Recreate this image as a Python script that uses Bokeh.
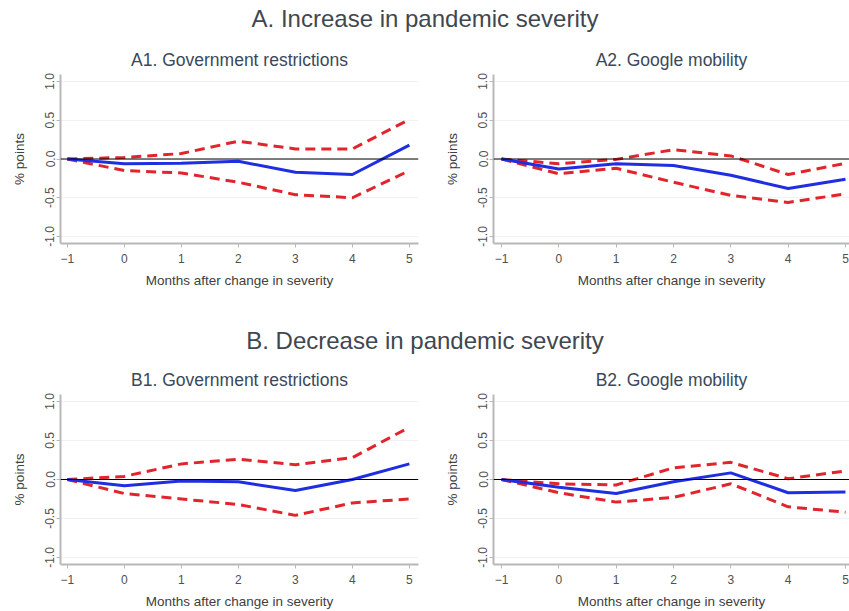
from bokeh.plotting import figure
from bokeh.layouts import column, row
from bokeh.models import Range1d, FixedTicker, PrintfTickFormatter, Span, ColumnDataSource
from bokeh.core.properties import value
from bokeh.embed import file_html
from bokeh.resources import INLINE

months = [-1, 0, 1, 2, 3, 4, 5]
x_ticks = [-1, 0, 1, 2, 3, 4, 5]
y_ticks = [-1.0, -0.5, 0.0, 0.5, 1.0]

section_a = "A. Increase in pandemic severity"
section_b = "B. Decrease in pandemic severity"

title_a1 = "A1. Government restrictions"
title_a2 = "A2. Google mobility"
title_b1 = "B1. Government restrictions"
title_b2 = "B2. Google mobility"

a1_est = [0.0, -0.06, -0.055, -0.03, -0.17, -0.20, 0.18]
a1_up = [0.0, 0.02, 0.07, 0.23, 0.13, 0.13, 0.51]
a1_lo = [0.0, -0.15, -0.18, -0.30, -0.46, -0.50, -0.15]

a2_est = [0.0, -0.13, -0.06, -0.085, -0.21, -0.38, -0.26]
a2_up = [0.0, -0.06, -0.005, 0.12, 0.04, -0.20, -0.055]
a2_lo = [0.0, -0.19, -0.12, -0.30, -0.47, -0.56, -0.45]

b1_est = [0.0, -0.08, -0.02, -0.03, -0.14, 0.0, 0.20]
b1_up = [0.0, 0.04, 0.20, 0.26, 0.19, 0.28, 0.67]
b1_lo = [0.0, -0.18, -0.25, -0.32, -0.46, -0.30, -0.25]

b2_est = [0.0, -0.10, -0.18, -0.03, 0.085, -0.17, -0.16]
b2_up = [0.0, -0.055, -0.07, 0.15, 0.22, 0.01, 0.11]
b2_lo = [0.0, -0.17, -0.29, -0.23, -0.055, -0.35, -0.42]

FONT = "Liberation Sans"
W_TOTAL = 849


def header(text, height, ypos):
    p = figure(width=W_TOTAL, height=height, x_range=Range1d(0, 1), y_range=Range1d(0, 1),
               output_backend="svg", toolbar_location=None,
               x_axis_location=None, y_axis_location=None, min_border=0)
    p.outline_line_color = None
    p.xgrid.visible = False
    p.ygrid.visible = False
    src = ColumnDataSource(dict(x=[0.5], y=[ypos], t=[text]))
    p.text(x="x", y="y", text="t", source=src, text_align="center", text_baseline="middle",
           text_font=value(FONT), text_font_size="24px", text_color="#3f4750")
    return p


def panel(title, est, up, lo, width, height, left, right, top, bottom, xr):
    p = figure(width=width, height=height, x_range=Range1d(*xr), y_range=Range1d(-1.09, 1.09),
               output_backend="svg", toolbar_location=None,
               min_border_left=left, min_border_right=right, min_border_top=top, min_border_bottom=bottom)
    p.title.text = title
    p.title.align = "center"
    p.title.text_font = FONT
    p.title.text_font_size = "17.5px"
    p.title.text_font_style = "normal"
    p.title.text_color = "#3b4858"
    p.title.standoff = 9
    p.outline_line_color = None
    p.xgrid.visible = False
    p.ygrid.grid_line_color = "#eff1f3"
    p.ygrid.grid_line_width = 1

    p.xaxis.ticker = FixedTicker(ticks=x_ticks)
    p.yaxis.ticker = FixedTicker(ticks=y_ticks)
    p.yaxis.formatter = PrintfTickFormatter(format="%.1f")
    p.yaxis.major_label_orientation = "vertical"
    p.xaxis.axis_label = "Months after change in severity"
    p.yaxis.axis_label = "% points"
    for ax in (p.xaxis[0], p.yaxis[0]):
        ax.axis_line_color = "#b8b8b8"
        ax.axis_line_width = 2
        ax.major_tick_line_color = "#b8b8b8"
        ax.major_tick_out = 4
        ax.major_tick_in = 0
        ax.minor_tick_line_color = None
        ax.major_label_text_font = FONT
        ax.major_label_text_font_size = "12px"
        ax.major_label_text_color = "#505050"
        ax.axis_label_text_font = FONT
        ax.axis_label_text_font_size = "13.5px"
        ax.axis_label_text_font_style = "normal"
        ax.axis_label_text_color = "#404040"
    p.xaxis.major_label_standoff = 6
    p.xaxis.axis_label_standoff = 7
    p.yaxis.major_label_standoff = 2
    p.yaxis.axis_label_standoff = 16

    p.add_layout(Span(location=0, dimension="width", line_color="black", line_width=1))
    src = ColumnDataSource(dict(x=months, est=est, up=up, lo=lo))
    p.line("x", "up", source=src, line_color="#e2242c", line_width=3, line_dash="10 6")
    p.line("x", "lo", source=src, line_color="#e2242c", line_width=3, line_dash="10 6")
    p.line("x", "est", source=src, line_color="#1f2ee0", line_width=3)
    return p


XR_LEFT = (-1.12, 5.16)
XR_RIGHT = (-1.14, 5.07)

hA = header(section_a, 43, 0.58)
a1 = panel(title_a1, a1_est, a1_up, a1_lo, 433, 247, 60, 15, 30, 46, XR_LEFT)
a2 = panel(title_a2, a2_est, a2_up, a2_lo, 416, 247, 60, 0, 30, 46, XR_RIGHT)
hB = header(section_b, 73, 0.315)
b1 = panel(title_b1, b1_est, b1_up, b1_lo, 433, 248, 60, 15, 30, 47, XR_LEFT)
b2 = panel(title_b2, b2_est, b2_up, b2_lo, 416, 248, 60, 0, 30, 47, XR_RIGHT)

layout = column(hA, row(a1, a2), hB, row(b1, b2), spacing=0)
open("out.html", "w").write(file_html(layout, INLINE))
